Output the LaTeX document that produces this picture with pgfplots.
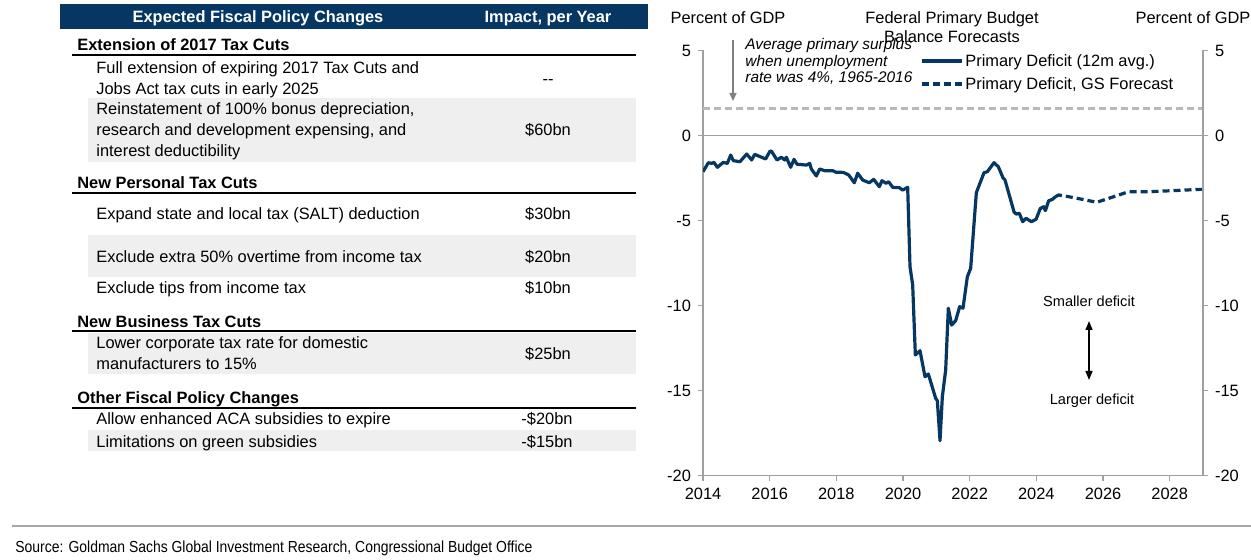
\documentclass[border=0pt]{standalone}
\usepackage{graphicx}
\usepackage{pgfplots}
\pgfplotsset{compat=1.18}
\usepackage{fontspec}
\setmainfont{Liberation Sans}
\usetikzlibrary{arrows.meta}
\definecolor{navy}{RGB}{6,55,99}
\definecolor{rowgray}{RGB}{239,239,239}
\definecolor{axisgray}{RGB}{160,160,160}
\newcommand{\tf}{\fontsize{8.2}{10}\selectfont}
\begin{document}
\begin{tikzpicture}
\path[use as bounding box] (0pt,0pt) rectangle (625.5pt,-280pt);
\begin{scope}[x=0.5pt,y=-0.5pt,every node/.style={inner sep=0pt,font=\tf}]
% ---- table ----
\fill[navy] (60,4) rectangle (648,29.5);
\node[anchor=base,text=white,font=\tf\bfseries] at (258,23) {Expected Fiscal Policy Changes};
\node[anchor=base,text=white,font=\tf\bfseries] at (548,23) {Impact, per Year};
\fill[rowgray] (88,98) rectangle (636,162);
\fill[rowgray] (88,235) rectangle (636,277);
\fill[rowgray] (88,333) rectangle (636,374);
\fill[rowgray] (88,430) rectangle (636,451);
\draw[line width=1pt] (72,55) -- (636,55);
\draw[line width=1pt] (72,193) -- (636,193);
\draw[line width=1pt] (72,331) -- (636,331);
\draw[line width=1pt] (72,408) -- (636,408);
\node[anchor=base west,font=\tf\bfseries] at (77,51) {Extension of 2017 Tax Cuts};
\node[anchor=base west,font=\tf\bfseries] at (77,189) {New Personal Tax Cuts};
\node[anchor=base west,font=\tf\bfseries] at (77,328) {New Business Tax Cuts};
\node[anchor=base west,font=\tf\bfseries] at (77,404) {Other Fiscal Policy Changes};
\node[anchor=base west] at (96,74) {Full extension of expiring 2017 Tax Cuts and};
\node[anchor=base west] at (96,95) {Jobs Act tax cuts in early 2025};
\node[anchor=base west] at (96,115) {Reinstatement of 100\% bonus depreciation,};
\node[anchor=base west] at (96,136) {research and development expensing, and};
\node[anchor=base west] at (96,157) {interest deductibility};
\node[anchor=base west] at (96,220) {Expand state and local tax (SALT) deduction};
\node[anchor=base west] at (96,263) {Exclude extra 50\% overtime from income tax};
\node[anchor=base west] at (96,294) {Exclude tips from income tax};
\node[anchor=base west] at (96,349) {Lower corporate tax rate for domestic};
\node[anchor=base west] at (96,370) {manufacturers to 15\%};
\node[anchor=base west] at (96,425) {Allow enhanced ACA subsidies to expire};
\node[anchor=base west] at (96,447) {Limitations on green subsidies};
\node[anchor=base] at (548,85) {-{}-};
\node[anchor=base] at (548,136) {\$60bn};
\node[anchor=base] at (548,220) {\$30bn};
\node[anchor=base] at (548,263) {\$20bn};
\node[anchor=base] at (548,294) {\$10bn};
\node[anchor=base] at (548,360) {\$25bn};
\node[anchor=base] at (547,425) {-\$20bn};
\node[anchor=base] at (547,447) {-\$15bn};
% ---- chart texts ----
\node[anchor=base] at (728,24) {Percent of GDP};
\node[anchor=base] at (952,24) {Federal Primary Budget};
\node[anchor=base] at (952,43) {Balance Forecasts};
\node[anchor=base] at (1193,24) {Percent of GDP};
\node[anchor=base west,font=\fontsize{7.7}{8}\selectfont\itshape] at (745,50) {Average primary surplus};
\node[anchor=base west,font=\fontsize{7.7}{8}\selectfont\itshape] at (745,67) {when unemployment};
\node[anchor=base west,font=\fontsize{7.7}{8}\selectfont\itshape] at (745,83) {rate was 4\%, 1965-2016};
\draw[gray, line width=0.7pt, -{Triangle[length=4pt,width=3.5pt]}] (733,40) -- (733,101);
\draw[navy, line width=1.6pt] (922,61) -- (962,61);
\node[anchor=base west] at (965,67) {Primary Deficit (12m avg.)};
\draw[navy, line width=1.6pt, dash pattern=on 3.5pt off 2pt] (922,84) -- (962,84);
\node[anchor=base west] at (965,90) {Primary Deficit, GS Forecast};
\node[anchor=base,font=\fontsize{7.3}{8}\selectfont] at (1089,307) {Smaller deficit};
\node[anchor=base,font=\fontsize{7.3}{8}\selectfont] at (1092,405) {Larger deficit};
\draw[line width=0.7pt, {Triangle[length=4.5pt,width=3.5pt]}-{Triangle[length=4.5pt,width=3.5pt]}] (1089,321) -- (1089,380);
% ---- source ----
\draw[gray!70, line width=0.6pt] (12,526) -- (1251,526);
\node[anchor=base west] at (15,552) {\resizebox{258.5pt}{\height}{\fontsize{8}{9}\selectfont Source: Goldman Sachs Global Investment Research, Congressional Budget Office}};
\end{scope}
% ---- axes ----
\begin{axis}[
  at={(351.5pt,-237.75pt)}, anchor=south west,
  scale only axis, width=250pt, height=212.5pt,
  xmin=2014, xmax=2029, ymin=-20, ymax=5,
  axis x line*=bottom, axis y line*=left,
  axis line style={draw=axisgray, line width=0.6pt, -},
  xtick={2014,2016,...,2028}, ytick={-20,-15,...,5},
  tick align=outside, major tick length=2.5pt,
  tick style={draw=axisgray, line width=0.6pt},
  /pgf/number format/assume math mode=true,
  /pgf/number format/1000 sep={},
  ticklabel style={font=\tf},
]
\addplot[axisgray, line width=0.6pt, forget plot] coordinates {(2014,0) (2029,0)};
\addplot[gray!55, line width=1.4pt, dash pattern=on 3.5pt off 2pt, forget plot] coordinates {(2014,1.6) (2029,1.6)};
\addplot[navy, line width=1.6pt, line join=round] coordinates {
(2014.00,-2.13) (2014.16,-1.60) (2014.26,-1.64) (2014.33,-1.58) (2014.43,-1.87)
(2014.61,-1.58) (2014.73,-1.64) (2014.83,-1.15) (2014.91,-1.48) (2015.11,-1.54)
(2015.31,-1.09) (2015.46,-1.44) (2015.55,-1.11) (2015.88,-1.38) (2016.00,-0.95)
(2016.05,-0.91) (2016.22,-1.44) (2016.35,-1.28) (2016.45,-1.44) (2016.50,-1.28)
(2016.63,-1.87) (2016.73,-1.40) (2016.82,-1.69) (2017.10,-1.74) (2017.20,-1.64)
(2017.25,-1.97) (2017.40,-2.38) (2017.50,-1.97) (2017.65,-2.07) (2017.89,-2.07)
(2017.99,-2.16) (2018.21,-2.17) (2018.37,-2.32) (2018.54,-2.78) (2018.64,-2.22)
(2018.79,-2.62) (2018.99,-2.78) (2019.12,-2.58) (2019.29,-3.01) (2019.37,-2.66)
(2019.49,-2.81) (2019.57,-2.72) (2019.69,-3.05) (2019.89,-3.07) (2019.99,-3.21)
(2020.14,-3.05) (2020.21,-7.72) (2020.29,-8.79) (2020.37,-12.91) (2020.51,-12.66)
(2020.66,-14.19) (2020.76,-14.03) (2020.98,-15.46) (2021.03,-15.60) (2021.11,-17.95)
(2021.18,-15.36) (2021.28,-13.79) (2021.36,-10.16) (2021.46,-11.15) (2021.58,-10.89)
(2021.70,-10.07) (2021.80,-10.16) (2021.93,-8.31) (2022.03,-7.81) (2022.20,-3.36)
(2022.43,-2.19) (2022.53,-2.13) (2022.73,-1.60) (2022.86,-1.84) (2023.00,-2.49)
(2023.06,-2.62) (2023.33,-4.49) (2023.39,-4.62) (2023.49,-4.58) (2023.59,-5.07)
(2023.69,-4.87) (2023.85,-5.07) (2023.99,-4.93) (2024.12,-4.29) (2024.22,-4.19)
(2024.27,-4.42) (2024.37,-3.84) (2024.49,-3.75) (2024.57,-3.60)
};
\addplot[navy, line width=1.6pt, dash pattern=on 3.5pt off 2pt] coordinates {
(2024.57,-3.60) (2024.67,-3.50) (2024.97,-3.60) (2025.47,-3.79) (2025.81,-3.93)
(2026.26,-3.64) (2026.76,-3.31) (2027.36,-3.31) (2028.90,-3.17) (2029.00,-3.17)
};
\end{axis}
\begin{axis}[
  at={(351.5pt,-237.75pt)}, anchor=south west,
  scale only axis, width=250pt, height=212.5pt,
  xmin=2014, xmax=2029, ymin=-20, ymax=5,
  axis x line=none, axis y line*=right,
  axis line style={draw=axisgray, line width=0.6pt, -},
  ytick={-20,-15,...,5},
  tick align=outside, major tick length=2.5pt,
  tick style={draw=axisgray, line width=0.6pt},
  /pgf/number format/assume math mode=true,
  ticklabel style={font=\tf},
]
\addplot[draw=none, forget plot] coordinates {(2014,0) (2029,0)};
\end{axis}
\end{tikzpicture}
\end{document}
